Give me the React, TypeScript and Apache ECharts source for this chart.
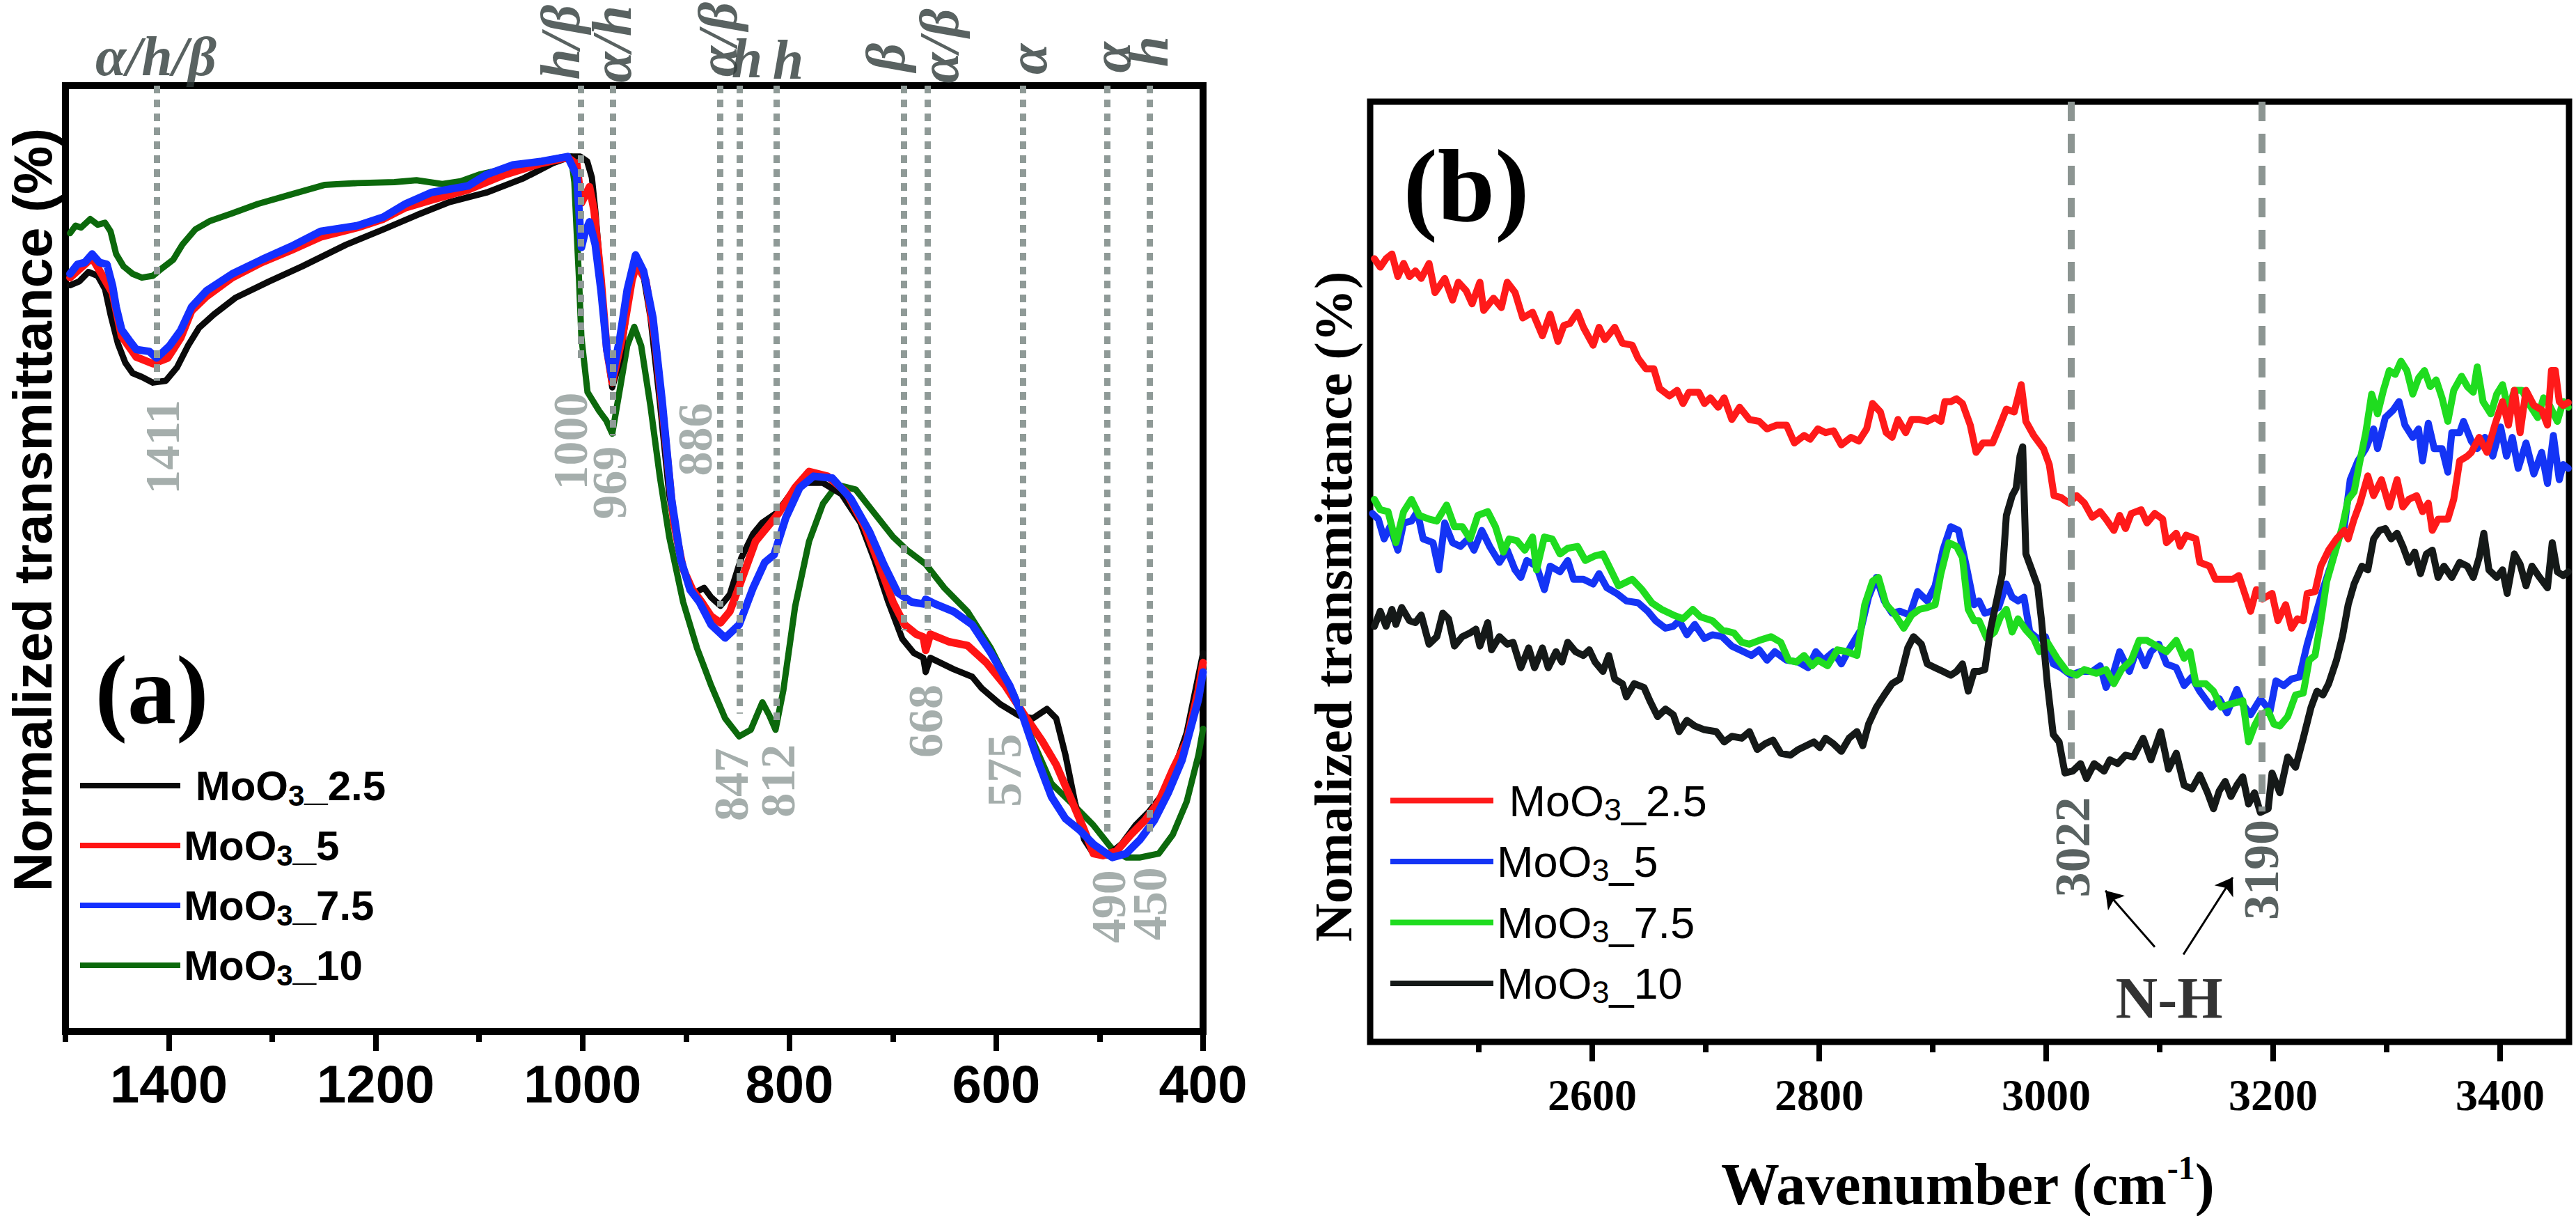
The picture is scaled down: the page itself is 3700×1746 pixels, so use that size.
import React, { useEffect, useRef } from 'react';
import * as echarts from 'echarts';

const SANS = "'Liberation Sans', Arial, Helvetica, sans-serif";
const NARROW = "'Liberation Sans Narrow', 'Arial Narrow', 'Liberation Sans', sans-serif";
const SERIF = "'Liberation Serif', 'Times New Roman', Times, serif";

// ---------- Panel (a) ----------
const aMajorTicks = [400, 600, 800, 1000, 1200, 1400];
const aMinorTicks = [500, 700, 900, 1100, 1300, 1500];
const legendLabels = ['MoO3_2.5', 'MoO3_5', 'MoO3_7.5', 'MoO3_10'];
const aNames = ['a25', 'a5', 'a75', 'a10'];
const aColors = ['#0a0a0a', '#ff1414', '#1430ff', '#0c690c'];
const aWidths = [9, 11, 11, 9];

const aBlack = [
  [1495.6, 78.9], [1486.7, 79.3], [1477.8, 80.3], [1468.8, 79.9], [1461.7, 78.5], [1456.4, 75.8], [1449.2, 72.7],
  [1442.1, 70.7], [1435.0, 69.6], [1426.1, 69.2], [1415.4, 68.6], [1402.9, 68.8], [1392.2, 70.2], [1381.5, 72.5],
  [1370.8, 74.4], [1356.6, 75.8], [1335.2, 77.6], [1303.1, 79.3], [1271.0, 80.9], [1228.3, 83.2], [1192.6, 84.8],
  [1160.6, 86.3], [1128.5, 87.7], [1092.8, 88.7], [1057.2, 90.2], [1028.7, 91.8], [1010.9, 92.5], [1002.3, 92.5],
  [995.5, 92.0], [991.0, 90.3], [987.7, 86.8], [982.1, 79.5], [976.5, 72.1], [971.3, 68.1], [963.6, 71.0],
  [956.8, 76.5], [948.7, 81.9], [941.0, 79.9], [934.3, 75.5], [925.3, 66.6], [916.2, 56.8], [907.2, 50.9],
  [898.2, 47.4], [891.4, 46.4], [882.4, 46.9], [875.7, 45.9], [866.6, 45.0], [857.6, 46.2], [846.4, 50.1],
  [835.1, 52.6], [826.1, 53.8], [812.6, 54.8], [799.0, 56.8], [785.5, 58.0], [767.5, 58.0], [749.4, 56.8],
  [731.4, 53.8], [717.9, 49.9], [704.3, 45.4], [690.8, 41.5], [679.5, 40.0], [670.5, 39.5], [668.2, 38.0],
  [663.7, 39.5], [641.2, 38.3], [623.2, 37.5], [614.1, 36.3], [596.1, 34.6], [578.0, 33.4], [564.6, 33.1],
  [551.0, 34.1], [542.0, 33.1], [533.0, 29.2], [524.0, 24.3], [515.0, 20.3], [506.0, 18.8], [492.4, 18.6],
  [478.9, 19.8], [465.3, 21.8], [451.8, 23.3], [438.3, 25.2], [424.8, 28.7], [415.8, 31.6], [404.5, 37.6], [400, 40.0],
];
const aRed = [
  [1495.6, 79.7], [1474.2, 81.8], [1454.6, 78.1], [1445.7, 73.5], [1431.4, 71.3], [1415.4, 70.6], [1401.1, 71.2],
  [1388.7, 73.3], [1378.0, 76.2], [1363.7, 77.7], [1338.7, 79.7], [1310.3, 81.3], [1281.7, 82.6], [1253.2, 84.0],
  [1217.6, 85.0], [1192.6, 85.9], [1171.2, 87.1], [1146.3, 87.9], [1110.7, 89.0], [1075.0, 90.6], [1039.4, 91.8],
  [1014.4, 92.4], [1005.6, 91.7], [1001.1, 87.6], [997.8, 88.3], [993.3, 89.3], [988.8, 86.8], [982.1, 79.5],
  [976.5, 72.1], [971.3, 68.6], [961.3, 73.5], [952.3, 79.4], [947.8, 81.1], [938.8, 79.4], [929.8, 73.0],
  [920.8, 63.7], [911.7, 53.8], [902.7, 48.9], [893.7, 46.7], [884.7, 45.4], [875.7, 43.9], [866.6, 43.2],
  [857.6, 44.4], [846.4, 47.7], [832.8, 51.8], [821.6, 53.3], [810.3, 54.8], [794.5, 57.5], [781.0, 59.2],
  [763.0, 58.7], [744.9, 57.0], [726.9, 53.3], [713.3, 49.4], [699.8, 45.4], [688.6, 43.0], [677.3, 42.0],
  [670.5, 41.7], [668.2, 40.3], [663.7, 42.0], [645.7, 41.2], [627.7, 40.8], [609.6, 39.0], [591.6, 36.6],
  [573.6, 33.6], [555.5, 30.7], [542.0, 28.2], [528.5, 24.8], [514.9, 21.3], [506.0, 18.8], [497.0, 18.6],
  [483.4, 19.1], [469.9, 20.8], [456.3, 22.3], [442.8, 24.3], [429.3, 27.7], [415.8, 30.7], [404.5, 36.1], [400, 39.0],
];
const aBlue = [
  [1495.6, 80.1], [1488.4, 81.1], [1481.3, 81.3], [1474.2, 82.2], [1467.1, 81.3], [1459.9, 81.1], [1454.6, 78.9],
  [1451.0, 76.6], [1445.7, 74.2], [1438.5, 73.1], [1431.4, 72.1], [1418.9, 71.9], [1411.8, 71.2], [1399.3, 72.5],
  [1388.7, 74.1], [1378.0, 76.6], [1363.7, 78.3], [1338.7, 80.1], [1310.3, 81.6], [1281.7, 83.0], [1253.2, 84.6],
  [1217.6, 85.2], [1192.6, 86.1], [1171.2, 87.5], [1146.3, 88.7], [1110.7, 89.4], [1092.8, 90.6], [1067.9, 91.6],
  [1039.4, 92.0], [1014.4, 92.5], [1005.6, 90.5], [1003.4, 86.8], [1001.1, 82.9], [997.8, 84.4], [993.3, 85.6],
  [987.7, 83.2], [982.1, 78.3], [976.5, 72.1], [971.3, 69.1], [963.6, 73.5], [956.8, 78.4], [948.7, 82.1],
  [941.0, 80.4], [932.0, 75.5], [923.0, 66.6], [914.0, 56.3], [905.0, 49.9], [896.0, 46.7], [887.0, 45.4],
  [875.7, 43.0], [862.1, 41.6], [848.6, 43.0], [835.1, 46.9], [823.8, 49.6], [814.8, 50.4], [803.5, 54.3],
  [790.0, 57.5], [776.5, 58.7], [758.4, 58.5], [740.4, 56.3], [722.4, 52.8], [708.8, 49.4], [695.3, 46.4],
  [681.8, 45.4], [670.5, 45.2], [668.2, 45.7], [659.2, 45.2], [641.2, 44.4], [623.2, 43.0], [605.1, 40.0],
  [587.1, 36.6], [573.6, 33.1], [560.0, 28.7], [546.5, 24.8], [533.0, 22.5], [519.5, 21.3], [506.0, 19.8],
  [487.9, 18.4], [474.4, 18.8], [460.8, 20.3], [447.3, 22.3], [433.8, 25.2], [420.3, 28.7], [404.5, 35.1], [400, 38.0],
];
const aGreen = [
  [1495.6, 84.4], [1490.2, 85.2], [1484.9, 85.0], [1476.0, 85.9], [1468.8, 85.3], [1461.7, 85.5], [1456.4, 84.6],
  [1451.0, 82.2], [1443.9, 80.9], [1435.0, 80.1], [1426.1, 79.7], [1415.4, 79.9], [1406.5, 80.7], [1395.8, 81.6],
  [1386.9, 83.2], [1374.4, 84.8], [1360.1, 85.7], [1338.7, 86.5], [1313.8, 87.5], [1281.7, 88.5], [1249.7, 89.5],
  [1217.6, 89.7], [1181.9, 89.8], [1160.6, 90.0], [1135.6, 89.6], [1117.8, 89.9], [1100.0, 90.6], [1075.0, 91.2],
  [1046.5, 91.8], [1021.6, 92.4], [1011.2, 92.5], [1007.9, 89.8], [1005.6, 84.4], [1003.4, 79.5], [1001.1, 73.4],
  [995.2, 67.6], [983.9, 65.6], [977.1, 64.6], [971.3, 63.2], [963.6, 68.1], [956.8, 72.5], [950.0, 74.5],
  [943.3, 72.5], [934.3, 66.1], [925.3, 58.7], [916.2, 52.3], [902.7, 45.4], [889.2, 40.5], [875.7, 36.6],
  [862.1, 33.1], [848.6, 31.2], [837.3, 31.9], [826.1, 34.8], [819.3, 33.4], [813.4, 31.9], [805.8, 36.1],
  [794.5, 44.9], [781.0, 51.8], [767.5, 55.8], [753.9, 57.8], [735.9, 57.3], [717.9, 54.8], [699.8, 52.3],
  [686.3, 50.9], [668.2, 49.4], [650.2, 46.9], [627.7, 44.4], [605.1, 40.5], [582.6, 35.6], [564.6, 30.7],
  [546.5, 26.2], [524.0, 23.8], [506.0, 21.8], [487.9, 19.3], [474.4, 18.4], [460.8, 18.4], [442.8, 18.8],
  [429.3, 20.8], [415.8, 24.3], [404.5, 29.2], [400, 32.0],
];

// assignment lines and labels of panel (a)
const aLineWn = [1411.5, 1002, 970.5, 867, 848, 812.5, 689, 666.5, 574, 493, 452];
const aLineEnd = [68.8, 70.8, 63.0, 44.9, 33.6, 32.6, 42.4, 42.4, 34.0, 21.0, 20.5];
const aNumText = ['1411', '1000', '969', '886', '847', '812', '668', '575', '490', '450'];
const aNumX = [1406.4, 1011.9, 973.6, 891.4, 855.8, 810.7, 668.0, 591.9, 490.9, 451.2];
const aNumY = [61.8, 62.4, 58.0, 62.6, 26.1, 26.5, 32.8, 27.6, 13.2, 13.5];
const aTopText = ['α/h/β', 'h/β', 'α/h', 'α/β', 'h', 'h', 'β', 'α/β', 'α', 'α', 'h'];
const aTopX = [1412.5, 1021.4, 971.6, 869.2, 841.0, 801.3, 707.0, 655.2, 569.7, 488.9, 452.5];
const aTopY = [103.1, 104.6, 104.4, 104.9, 102.9, 102.7, 103.0, 104.2, 102.8, 103.0, 103.6];
const aTopRot = [0, 90, 90, 90, 0, 0, 90, 90, 90, 90, 90];

// ---------- Panel (b) ----------
const bMajorTicks = [2600, 2800, 3000, 3200, 3400];
const bMinorTicks = [2500, 2700, 2900, 3100, 3300];
const bNames = ['b25', 'b5', 'b75', 'b10'];
const bColors = ['#ff1a1a', '#1434f5', '#1fdc1f', '#151918'];

const bRed = [
  [2408.0, 83.3], [2413.2, 82.4], [2418.3, 83.3], [2423.5, 83.8], [2428.7, 81.4], [2433.8, 82.8], [2439.0, 81.4],
  [2444.2, 82.0], [2449.3, 81.2], [2456.2, 82.8], [2461.4, 79.7], [2470.0, 81.2], [2476.9, 78.9], [2482.0, 80.8],
  [2488.9, 79.9], [2494.1, 78.5], [2501.0, 80.8], [2504.4, 77.8], [2513.0, 79.1], [2519.9, 78.1], [2525.1, 80.8],
  [2532.0, 79.7], [2538.8, 77.0], [2547.4, 77.6], [2556.1, 75.1], [2562.9, 77.4], [2569.8, 74.5], [2575.0, 76.2],
  [2580.2, 76.4], [2587.0, 77.6], [2592.2, 76.0], [2600.8, 74.1], [2606.0, 76.0], [2611.1, 74.7], [2619.8, 76.0],
  [2626.6, 74.3], [2635.2, 74.1], [2640.4, 72.7], [2647.3, 71.6], [2654.2, 71.6], [2659.3, 69.5], [2668.0, 68.7],
  [2674.8, 69.3], [2680.0, 67.9], [2685.2, 69.1], [2693.8, 69.1], [2698.9, 67.9], [2704.1, 68.5], [2711.0, 67.5],
  [2716.2, 68.5], [2723.0, 66.2], [2729.9, 67.5], [2738.5, 66.2], [2747.1, 66.0], [2754.0, 65.2], [2762.6, 65.6],
  [2771.2, 65.6], [2778.1, 63.7], [2786.7, 64.5], [2791.9, 64.1], [2798.8, 65.2], [2805.7, 64.8], [2812.6, 65.0],
  [2819.5, 63.5], [2828.0, 64.3], [2834.9, 63.9], [2841.8, 65.2], [2847.0, 67.9], [2853.9, 67.0], [2859.0, 64.8],
  [2864.2, 64.3], [2869.4, 66.2], [2876.2, 64.8], [2881.4, 66.2], [2888.3, 66.2], [2895.2, 66.0], [2902.1, 66.4],
  [2907.2, 66.0], [2910.7, 68.1], [2915.9, 68.1], [2921.0, 68.4], [2926.2, 67.9], [2933.1, 65.6], [2938.2, 62.7],
  [2944.2, 63.7], [2952.8, 63.7], [2958.0, 65.2], [2964.9, 67.3], [2971.8, 67.0], [2978.0, 69.9], [2982.1, 66.0],
  [2989.0, 64.5], [2997.6, 63.1], [3002.7, 61.4], [3006.9, 58.1], [3013.1, 57.9], [3020.0, 57.3], [3026.8, 58.1],
  [3033.7, 57.3], [3040.6, 55.8], [3047.5, 56.4], [3052.7, 55.6], [3059.6, 54.4], [3064.7, 56.0], [3069.9, 54.6],
  [3075.0, 56.2], [3083.7, 56.6], [3088.8, 55.2], [3095.7, 56.2], [3102.6, 55.6], [3106.0, 53.1], [3114.6, 54.1],
  [3118.1, 52.7], [3123.3, 53.9], [3131.9, 53.5], [3135.3, 51.0], [3143.9, 50.6], [3149.1, 49.2], [3156.0, 49.2],
  [3164.6, 49.2], [3169.7, 49.6], [3174.9, 47.7], [3180.1, 45.8], [3185.2, 48.1], [3190.4, 47.1], [3199.0, 47.7],
  [3204.2, 44.8], [3211.0, 46.5], [3216.2, 44.0], [3221.4, 45.0], [3226.5, 44.8], [3230.0, 47.7], [3236.9, 47.9],
  [3242.0, 50.6], [3248.9, 52.3], [3255.8, 53.5], [3262.7, 54.4], [3266.1, 53.5], [3271.3, 55.6], [3276.5, 57.3],
  [3283.4, 60.2], [3288.5, 58.1], [3295.4, 59.8], [3302.3, 56.9], [3309.2, 59.8], [3314.3, 56.9], [3319.5, 57.7],
  [3326.4, 58.1], [3331.6, 56.4], [3336.7, 57.3], [3340.2, 54.4], [3345.3, 55.6], [3353.9, 55.6], [3359.1, 57.7],
  [3364.3, 61.8], [3371.1, 62.3], [3374.6, 62.7], [3381.5, 64.3], [3388.4, 62.7], [3395.3, 65.6], [3402.1, 68.1],
  [3407.3, 65.6], [3412.5, 69.3], [3417.6, 64.8], [3422.8, 69.3], [3429.7, 67.7], [3436.6, 67.2], [3441.7, 65.6],
  [3445.2, 71.4], [3448.6, 71.4], [3452.1, 68.1], [3455.5, 67.7], [3460.0, 68.0],
];
const bBlue = [
  [2406.3, 56.2], [2411.5, 55.6], [2416.6, 53.5], [2421.8, 54.8], [2428.7, 52.3], [2433.8, 55.2], [2440.7, 55.4],
  [2445.9, 56.4], [2451.0, 53.5], [2459.7, 53.1], [2464.8, 50.2], [2470.0, 55.2], [2476.9, 53.1], [2483.8, 52.7],
  [2490.6, 53.5], [2495.8, 52.3], [2502.7, 54.4], [2509.6, 52.7], [2518.2, 51.0], [2525.1, 52.3], [2532.0, 50.2],
  [2537.1, 49.4], [2542.3, 51.2], [2550.9, 50.6], [2557.8, 48.1], [2562.9, 50.6], [2571.6, 50.0], [2578.4, 51.2],
  [2583.6, 49.2], [2592.2, 49.2], [2600.8, 48.7], [2606.0, 49.8], [2612.9, 48.3], [2621.5, 47.7], [2630.1, 46.9],
  [2640.4, 46.7], [2649.0, 45.8], [2655.9, 44.8], [2664.5, 44.0], [2671.4, 44.2], [2676.6, 44.8], [2683.4, 43.3],
  [2690.3, 44.4], [2698.9, 42.9], [2705.8, 43.3], [2714.4, 43.1], [2723.0, 42.1], [2733.4, 41.5], [2740.3, 41.1],
  [2747.1, 41.7], [2754.0, 40.6], [2760.9, 41.5], [2771.2, 40.6], [2781.6, 40.4], [2790.2, 39.8], [2797.1, 41.5],
  [2803.9, 40.6], [2812.6, 41.5], [2819.5, 40.2], [2828.0, 42.1], [2836.6, 43.8], [2843.5, 47.3], [2850.4, 49.4],
  [2857.3, 46.9], [2864.2, 45.6], [2871.1, 45.8], [2879.7, 45.4], [2886.6, 47.9], [2895.2, 46.9], [2902.1, 48.5],
  [2909.0, 52.3], [2915.9, 54.8], [2922.8, 54.4], [2929.6, 50.6], [2936.5, 46.5], [2940.8, 46.9], [2945.9, 45.6],
  [2951.1, 45.8], [2958.0, 46.2], [2964.9, 48.7], [2970.0, 47.3], [2975.2, 46.9], [2980.4, 47.3], [2985.5, 43.6],
  [2992.4, 42.9], [2999.3, 43.1], [3006.2, 40.2], [3013.1, 39.8], [3021.7, 39.0], [3030.3, 39.4], [3040.6, 39.4],
  [3047.5, 40.0], [3052.7, 37.7], [3059.6, 39.4], [3064.7, 41.5], [3073.3, 39.4], [3080.2, 41.9], [3087.1, 40.0],
  [3092.3, 41.5], [3099.2, 42.3], [3106.0, 40.2], [3114.6, 39.8], [3121.5, 37.9], [3128.4, 38.8], [3135.3, 37.3],
  [3145.6, 35.6], [3152.5, 36.5], [3159.4, 35.0], [3168.0, 37.5], [3173.2, 35.9], [3180.1, 34.8], [3188.7, 36.5],
  [3197.3, 35.2], [3202.4, 38.4], [3209.3, 37.9], [3216.2, 38.6], [3223.1, 38.8], [3230.0, 42.3], [3236.9, 45.2],
  [3243.8, 48.1], [3250.6, 50.6], [3257.5, 53.5], [3262.7, 54.8], [3267.9, 59.8], [3274.7, 61.8], [3281.6, 63.1],
  [3288.5, 65.2], [3292.0, 63.1], [3298.8, 66.4], [3305.7, 67.2], [3310.9, 68.1], [3316.1, 65.6], [3323.0, 64.3],
  [3328.1, 65.2], [3331.6, 61.8], [3336.7, 65.8], [3341.9, 63.1], [3348.8, 63.1], [3353.9, 60.6], [3357.4, 64.8],
  [3364.3, 64.8], [3367.7, 66.0], [3374.6, 63.9], [3379.8, 63.1], [3386.6, 64.3], [3393.5, 62.3], [3400.4, 65.4],
  [3405.6, 62.3], [3410.7, 64.3], [3415.9, 61.0], [3422.8, 63.7], [3429.7, 60.4], [3436.6, 62.7], [3441.7, 59.4],
  [3446.9, 64.5], [3452.1, 59.8], [3455.5, 61.4], [3460.0, 61.0],
];
const bGreen = [
  [2408.0, 57.7], [2413.2, 56.6], [2420.1, 56.4], [2427.0, 53.1], [2433.8, 56.4], [2440.7, 57.7], [2447.6, 56.0],
  [2456.2, 55.6], [2463.1, 55.4], [2471.7, 57.1], [2478.6, 54.8], [2485.5, 54.8], [2492.4, 53.5], [2499.2, 56.0],
  [2507.9, 56.4], [2514.7, 54.8], [2521.6, 52.1], [2526.8, 53.5], [2533.7, 53.3], [2540.6, 52.3], [2547.4, 53.7],
  [2550.9, 50.2], [2557.8, 53.7], [2564.7, 53.5], [2571.6, 51.9], [2578.4, 52.5], [2587.0, 52.7], [2593.9, 51.2],
  [2602.5, 51.7], [2609.4, 51.9], [2616.3, 50.2], [2623.2, 48.5], [2635.2, 49.2], [2643.9, 48.1], [2652.5, 46.7],
  [2661.1, 46.0], [2671.4, 45.4], [2680.0, 45.0], [2688.6, 46.0], [2695.5, 45.2], [2705.8, 44.8], [2714.4, 43.8],
  [2724.8, 43.5], [2731.7, 42.5], [2738.5, 42.3], [2747.1, 42.7], [2757.5, 43.1], [2766.1, 42.5], [2773.0, 40.6],
  [2779.9, 40.4], [2786.7, 41.1], [2793.6, 40.0], [2798.8, 40.6], [2807.4, 40.0], [2816.0, 41.7], [2824.6, 41.5],
  [2833.2, 41.1], [2840.1, 46.5], [2847.0, 49.0], [2852.2, 49.4], [2859.0, 46.5], [2865.9, 45.6], [2874.5, 44.0],
  [2881.4, 45.4], [2888.3, 46.0], [2895.2, 46.2], [2902.1, 46.5], [2907.2, 49.8], [2914.1, 53.1], [2921.0, 52.7],
  [2926.2, 51.5], [2931.3, 46.0], [2936.5, 44.8], [2940.8, 44.8], [2947.7, 42.9], [2954.5, 43.6], [2959.7, 45.2],
  [2964.9, 46.0], [2970.0, 43.6], [2975.2, 45.0], [2982.1, 43.8], [2989.0, 42.9], [2994.1, 41.5], [3001.0, 42.5],
  [3009.6, 40.8], [3018.2, 39.4], [3026.8, 39.0], [3033.7, 39.6], [3044.1, 39.2], [3052.7, 39.6], [3059.6, 38.1],
  [3066.4, 39.6], [3075.0, 40.6], [3081.9, 42.7], [3088.8, 42.7], [3097.4, 42.1], [3106.0, 41.5], [3114.6, 42.7],
  [3121.5, 40.8], [3126.7, 41.5], [3131.9, 38.1], [3140.5, 38.1], [3147.4, 37.3], [3154.2, 35.6], [3161.1, 35.9],
  [3168.0, 36.1], [3173.2, 36.3], [3178.3, 31.9], [3183.5, 33.6], [3188.7, 34.8], [3195.6, 35.2], [3200.7, 33.8],
  [3205.9, 33.6], [3212.8, 34.6], [3219.7, 36.9], [3226.5, 37.1], [3231.7, 40.6], [3236.9, 41.1], [3242.0, 44.8],
  [3247.2, 49.0], [3254.1, 51.9], [3261.0, 54.8], [3266.1, 57.7], [3271.3, 58.5], [3276.5, 61.8], [3281.6, 64.8],
  [3286.8, 68.9], [3292.0, 66.8], [3297.1, 69.3], [3302.3, 71.4], [3307.5, 71.0], [3312.6, 72.4], [3317.8, 71.4],
  [3323.0, 68.9], [3328.1, 70.6], [3333.3, 71.4], [3338.4, 69.7], [3343.6, 70.4], [3348.8, 68.5], [3353.9, 66.0],
  [3359.1, 69.3], [3366.0, 70.8], [3371.1, 69.7], [3376.3, 69.1], [3379.8, 71.8], [3384.9, 68.1], [3391.8, 66.8],
  [3397.0, 68.9], [3402.1, 69.9], [3407.3, 67.2], [3412.5, 69.3], [3419.3, 69.3], [3426.2, 67.7], [3433.1, 66.4],
  [3438.3, 68.5], [3443.5, 67.7], [3450.4, 66.0], [3455.5, 68.1], [3460.0, 67.5],
];
const bBlack = [
  [2408.0, 44.2], [2413.2, 45.8], [2418.3, 44.2], [2423.5, 46.0], [2427.0, 44.4], [2432.1, 46.2], [2439.0, 44.8],
  [2444.2, 44.6], [2449.3, 45.4], [2456.2, 42.3], [2463.1, 43.1], [2468.3, 45.6], [2473.4, 45.0], [2478.6, 42.1],
  [2485.5, 43.1], [2492.4, 43.5], [2497.5, 43.9], [2501.0, 42.1], [2507.9, 44.6], [2511.3, 41.7], [2518.2, 43.1],
  [2525.1, 42.3], [2530.2, 42.5], [2537.1, 39.8], [2544.0, 41.9], [2549.2, 39.8], [2556.1, 41.9], [2561.2, 39.8],
  [2568.1, 41.5], [2573.3, 40.4], [2578.4, 42.5], [2585.3, 41.5], [2592.2, 41.1], [2597.4, 41.7], [2602.5, 40.4],
  [2609.4, 39.4], [2614.6, 41.1], [2619.8, 38.6], [2626.6, 38.1], [2630.1, 36.7], [2637.0, 38.1], [2645.6, 37.7],
  [2650.7, 36.3], [2657.6, 34.6], [2664.5, 35.4], [2671.4, 34.8], [2676.6, 33.0], [2683.4, 34.2], [2690.3, 33.6],
  [2698.9, 33.2], [2709.3, 33.0], [2716.2, 31.9], [2723.0, 32.5], [2731.7, 32.3], [2738.5, 33.0], [2745.4, 31.1],
  [2752.3, 31.7], [2759.2, 32.1], [2766.1, 30.7], [2774.7, 30.5], [2781.6, 31.1], [2788.5, 31.5], [2795.3, 31.9],
  [2800.5, 31.3], [2805.7, 32.3], [2812.6, 31.7], [2819.5, 30.9], [2826.3, 32.3], [2833.2, 33.0], [2838.4, 31.5],
  [2843.5, 33.8], [2850.4, 35.6], [2857.3, 36.9], [2864.2, 38.1], [2871.1, 38.6], [2878.0, 41.9], [2883.1, 43.1],
  [2890.0, 42.3], [2895.2, 40.2], [2902.1, 39.8], [2909.0, 39.4], [2915.9, 39.0], [2921.0, 39.4], [2926.2, 40.2],
  [2931.3, 37.3], [2936.5, 39.4], [2940.8, 39.4], [2945.9, 39.6], [2951.1, 44.0], [2956.3, 46.9], [2961.4, 49.8],
  [2964.9, 56.0], [2970.0, 58.1], [2973.5, 58.9], [2976.9, 62.3], [2979.3, 63.3], [2982.1, 51.9], [2987.3, 50.2],
  [2992.4, 48.5], [2995.9, 44.8], [3001.0, 38.1], [3006.2, 32.7], [3011.4, 31.9], [3016.5, 28.6], [3023.4, 28.8],
  [3030.3, 29.6], [3035.5, 28.0], [3042.3, 29.6], [3051.0, 28.8], [3056.1, 30.0], [3063.0, 29.6], [3069.9, 30.5],
  [3076.8, 30.3], [3085.4, 32.3], [3092.3, 30.0], [3100.9, 33.0], [3107.8, 29.0], [3114.6, 30.7], [3121.5, 27.3],
  [3128.4, 26.9], [3135.3, 28.4], [3142.2, 26.5], [3147.4, 24.8], [3152.5, 26.7], [3157.7, 27.7], [3162.8, 26.1],
  [3168.0, 27.3], [3173.2, 28.2], [3178.3, 25.3], [3183.5, 26.5], [3188.7, 24.4], [3195.6, 24.8], [3199.0, 28.6],
  [3205.9, 26.5], [3212.8, 30.3], [3219.7, 29.2], [3226.5, 32.3], [3233.4, 35.6], [3238.6, 37.3], [3243.8, 36.9],
  [3248.9, 38.1], [3255.8, 40.6], [3261.0, 43.1], [3266.1, 46.5], [3271.3, 48.7], [3278.2, 50.6], [3283.4, 50.2],
  [3288.5, 53.5], [3293.7, 54.4], [3298.8, 54.6], [3304.0, 53.5], [3309.2, 54.1], [3314.3, 52.7], [3319.5, 51.0],
  [3324.7, 52.1], [3329.8, 49.8], [3335.0, 51.9], [3340.2, 52.3], [3345.3, 49.4], [3350.5, 50.6], [3357.4, 49.4],
  [3364.3, 51.0], [3371.1, 50.6], [3376.3, 49.4], [3381.5, 51.5], [3385.6, 54.1], [3390.1, 50.2], [3397.0, 49.4],
  [3402.1, 50.2], [3406.2, 47.7], [3412.5, 51.9], [3417.6, 50.8], [3422.8, 48.5], [3428.0, 50.6], [3434.8, 49.4],
  [3441.7, 48.3], [3445.9, 53.1], [3450.4, 50.0], [3455.5, 49.6], [3460.0, 50.0],
];

const bLineWn = [3022, 3190];
const bLineEnd = [30.1, 24.5];
const bNumText = ['3022', '3190'];
const bNumX = [3023.3, 3189.6];
const bNumY = [20.7, 18.3];
const bNHText = 'N-H';
const bNHPos = [3108.3, 4.6];
const bArrowFrom = [[3095.7, 10.1], [3120.9, 9.3]];
const bArrowTo = [[3052.2, 16.1], [3164.4, 17.5]];

function legendRich(name: string, names: string[]) {
  const i = names.indexOf(name);
  const lab = legendLabels[i];
  const [head, tail] = lab.split('3_');
  return `{t|${i === 0 ? '\u00a0' : ''}${head}}{s|3}{t|_${tail}}`;
}

function buildOption() {
  const grayA = '#8f9a97';
  const slate = '#2f3b3a';

  const curvesA = [aBlack, aRed, aBlue, aGreen];
  const drawOrderA = [3, 0, 1, 2];
  const seriesA = drawOrderA.map((i) => ({
    type: 'line',
    name: aNames[i],
    xAxisIndex: 0,
    yAxisIndex: 0,
    data: curvesA[i],
    showSymbol: false,
    symbol: 'none',
    color: aColors[i],
    lineStyle: { color: aColors[i], width: aWidths[i], join: 'round', cap: 'round' },
    z: 2,
  }));

  const curvesB = [bRed, bBlue, bGreen, bBlack];
  const drawOrderB = [1, 2, 0, 3];
  const seriesB = drawOrderB.map((i) => ({
    type: 'line',
    name: bNames[i],
    xAxisIndex: 2,
    yAxisIndex: 1,
    data: curvesB[i],
    showSymbol: false,
    symbol: 'none',
    color: bColors[i],
    lineStyle: { color: bColors[i], width: 10, join: 'round', cap: 'round' },
    z: 2,
  }));

  const annA = {
    type: 'scatter',
    name: 'annA',
    xAxisIndex: 0,
    yAxisIndex: 0,
    symbolSize: 1,
    clip: false,
    silent: true,
    itemStyle: { color: 'rgba(0,0,0,0)' },
    z: 6,
    data: aNumText.map((t, i) => ({ name: t, value: [aNumX[i], aNumY[i]] })),
    label: {
      show: true,
      position: 'inside',
      formatter: '{b}',
      rotate: 90,
      fontSize: 70,
      fontWeight: 'bold',
      fontFamily: SERIF,
      color: grayA,
    },
    markLine: {
      silent: true,
      symbol: ['none', 'none'],
      label: { show: false },
      lineStyle: { type: [11, 9], width: 9, color: grayA, cap: 'butt' },
      z: 5,
      data: aLineWn.map((w, i) => [{ coord: [w, 100] }, { coord: [w, aLineEnd[i]] }]),
    },
  };

  const topA = {
    type: 'scatter',
    name: 'topA',
    xAxisIndex: 0,
    yAxisIndex: 0,
    symbolSize: 1,
    clip: false,
    silent: true,
    itemStyle: { color: 'rgba(0,0,0,0)' },
    data: aTopText.map((t, i) => ({
      name: t,
      value: [aTopX[i], aTopY[i]],
      label: { rotate: aTopRot[i] },
    })),
    label: {
      show: true,
      position: 'inside',
      formatter: '{b}',
      fontSize: 80,
      fontWeight: 'bold',
      fontStyle: 'italic',
      fontFamily: SERIF,
      color: slate,
    },
  };

  const annB = {
    type: 'scatter',
    name: 'annB',
    xAxisIndex: 2,
    yAxisIndex: 1,
    symbolSize: 1,
    clip: false,
    silent: true,
    itemStyle: { color: 'rgba(0,0,0,0)' },
    z: 6,
    data: bNumText.map((t, i) => ({ name: t, value: [bNumX[i], bNumY[i]] })),
    label: {
      show: true,
      position: 'inside',
      formatter: '{b}',
      rotate: 90,
      fontSize: 72,
      fontWeight: 'bold',
      fontFamily: SERIF,
      color: slate,
    },
    markLine: {
      silent: true,
      symbol: ['none', 'none'],
      label: { show: false },
      lineStyle: { type: [28, 18], width: 10, color: '#8c9592' },
      data: bLineWn.map((w, i) => [{ coord: [w, 100] }, { coord: [w, bLineEnd[i]] }]),
    },
  };

  const nhB = {
    type: 'scatter',
    name: 'nhB',
    xAxisIndex: 2,
    yAxisIndex: 1,
    symbolSize: 1,
    clip: false,
    silent: true,
    itemStyle: { color: 'rgba(0,0,0,0)' },
    data: [{ name: bNHText, value: bNHPos }],
    label: {
      show: true,
      position: 'inside',
      formatter: '{b}',
      fontSize: 84,
      fontWeight: 'bold',
      fontFamily: SERIF,
      color: '#000',
    },
    markLine: {
      silent: true,
      symbol: ['none', 'arrow'],
      symbolSize: 24,
      label: { show: false },
      lineStyle: { type: 'solid', width: 3, color: '#000' },
      data: bArrowFrom.map((f, i) => [{ coord: f }, { coord: bArrowTo[i] }]),
    },
  };

  const majorAxis = (grid: number, min: number, max: number, inverse: boolean, ticks: number[], font: any) => ({
    type: 'value',
    gridIndex: grid,
    min,
    max,
    inverse,
    position: 'bottom',
    axisLine: { show: false },
    splitLine: { show: false },
    axisTick: { show: true, length: 28, customValues: ticks, lineStyle: { width: 8, color: '#000' } },
    axisLabel: {
      show: true,
      customValues: ticks,
      formatter: (v: number) => String(v),
      verticalAlign: 'middle',
      color: '#000',
      ...font,
    },
  });
  const minorAxis = (grid: number, min: number, max: number, inverse: boolean, ticks: number[]) => ({
    type: 'value',
    gridIndex: grid,
    min,
    max,
    inverse,
    position: 'bottom',
    axisLine: { show: false },
    splitLine: { show: false },
    axisTick: { show: true, length: 15, customValues: ticks, lineStyle: { width: 8, color: '#000' } },
    axisLabel: { show: false },
  });

  const legendBase = {
    orient: 'vertical',
    icon: 'rect',
    itemHeight: 8,
    itemGap: 21,
    selectedMode: false,
    padding: 0,
  };

  return {
    animation: false,
    backgroundColor: '#ffffff',
    grid: [
      { left: 94, top: 123, width: 1634, height: 1358, show: true, borderColor: '#000', borderWidth: 10, backgroundColor: 'rgba(0,0,0,0)' },
      { left: 1968, top: 146, width: 1722, height: 1350, show: true, borderColor: '#000', borderWidth: 9, backgroundColor: 'rgba(0,0,0,0)' },
    ],
    xAxis: [
      majorAxis(0, 400, 1500, true, aMajorTicks, { fontSize: 76, fontWeight: 'bold', fontFamily: NARROW, margin: 75 }),
      minorAxis(0, 400, 1500, true, aMinorTicks),
      majorAxis(1, 2404.3, 3460.7, false, bMajorTicks, { fontSize: 64, fontWeight: 'bold', fontFamily: SERIF, margin: 76 }),
      minorAxis(1, 2404.3, 3460.7, false, bMinorTicks),
    ],
    yAxis: [
      { type: 'value', gridIndex: 0, min: 0, max: 100, show: false },
      { type: 'value', gridIndex: 1, min: 0, max: 100, show: false },
    ],
    legend: [
      {
        ...legendBase,
        data: aNames,
        left: 115,
        top: 1098,
        itemWidth: 144,
        formatter: (n: string) => legendRich(n, aNames),
        textStyle: {
          rich: {
            t: { fontSize: 60, fontWeight: 'bold', fontFamily: SANS, color: '#000', lineHeight: 70, verticalAlign: 'middle' },
            s: { fontSize: 42, fontWeight: 'bold', fontFamily: SANS, color: '#000', lineHeight: 21, verticalAlign: 'bottom' },
          },
        },
      },
      {
        ...legendBase,
        data: bNames,
        left: 1997,
        top: 1118,
        itemWidth: 148,
        formatter: (n: string) => legendRich(n, bNames),
        textStyle: {
          rich: {
            t: { fontSize: 63, fontFamily: SANS, color: '#000', lineHeight: 70, verticalAlign: 'middle' },
            s: { fontSize: 45, fontFamily: SANS, color: '#000', lineHeight: 22, verticalAlign: 'bottom' },
          },
        },
      },
    ],
    graphic: [
      {
        type: 'text',
        x: 47,
        y: 732,
        rotation: Math.PI / 2,
        style: { text: 'Normalized transmittance (%)', fontSize: 78, fontWeight: 'bold', fontFamily: SANS, fill: '#000', align: 'center', verticalAlign: 'middle' },
      },
      {
        type: 'text',
        x: 1915,
        y: 871,
        rotation: Math.PI / 2,
        style: { text: 'Nomalized transmittance (%)', fontSize: 76, fontWeight: 'bold', fontFamily: SERIF, fill: '#000', align: 'center', verticalAlign: 'middle' },
      },
      {
        type: 'text',
        x: 2826,
        y: 1700,
        style: {
          text: '{t|Wavenumber (cm}{u|-1}{t|)}',
          align: 'center',
          verticalAlign: 'middle',
          rich: {
            t: { fontSize: 84, fontWeight: 'bold', fontFamily: SERIF, fill: '#000', color: '#000', lineHeight: 96, verticalAlign: 'middle' },
            u: { fontSize: 48, fontWeight: 'bold', fontFamily: SERIF, fill: '#000', color: '#000', lineHeight: 50, verticalAlign: 'top' },
          },
        },
      },
      {
        type: 'text',
        x: 218,
        y: 990,
        style: { text: '(a)', fontSize: 140, fontWeight: 'bold', fontFamily: SERIF, fill: '#000', align: 'center', verticalAlign: 'middle' },
      },
      {
        type: 'text',
        x: 2106,
        y: 267,
        style: { text: '(b)', fontSize: 148, fontWeight: 'bold', fontFamily: SERIF, fill: '#000', align: 'center', verticalAlign: 'middle' },
      },
    ],
    series: [...seriesA, annA, topA, ...seriesB, annB, nhB],
  };
}

export default function App() {
  const ref = useRef<HTMLDivElement>(null);
  useEffect(() => {
    if (!ref.current) return;
    const chart = echarts.init(ref.current, null, { renderer: 'svg' });
    chart.setOption(buildOption() as any);
    return () => chart.dispose();
  }, []);
  return (
    <div
      ref={ref}
      style={{ position: 'absolute', left: 0, top: 0, width: 3700, height: 1746, background: '#fff' }}
    />
  );
}
